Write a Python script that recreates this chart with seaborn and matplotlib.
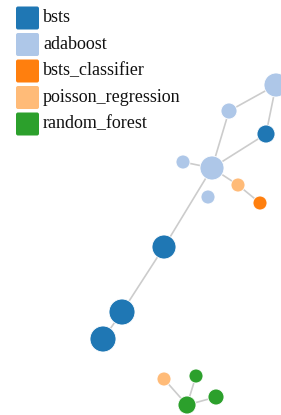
import matplotlib
matplotlib.use("Agg")
import matplotlib.pyplot as plt
from matplotlib.patches import FancyBboxPatch
import seaborn as sns
import pandas as pd

# node data (pixel layout)
node_x = [276, 229, 266, 183, 212, 238, 260, 208, 164, 122, 103, 164, 196, 187, 216]
node_y = [85, 111, 134, 162, 168, 185, 203, 197, 247, 312, 339, 379, 376, 405, 397]
node_r = [12, 8, 9, 7, 12, 7, 7, 7, 12, 13, 13, 7, 7, 9, 8]
node_group = ["adaboost", "adaboost", "bsts", "adaboost", "adaboost",
              "poisson_regression", "bsts_classifier", "adaboost",
              "bsts", "bsts", "bsts", "poisson_regression",
              "random_forest", "random_forest", "random_forest"]
edges = [(0, 1), (0, 2), (1, 4), (2, 4), (3, 4), (4, 5), (5, 6), (4, 8),
         (8, 9), (9, 10), (11, 13), (12, 13), (14, 13)]

groups = ["bsts", "adaboost", "bsts_classifier", "poisson_regression", "random_forest"]
colors = ["#1f77b4", "#aec7e8", "#ff7f0e", "#ffbb78", "#2ca02c"]

df = pd.DataFrame({"x": node_x, "y": node_y, "r": node_r, "group": node_group})

sns.set_style("white")
fig = plt.figure(figsize=(2.81, 4.15), dpi=100)
ax = fig.add_axes([0, 0, 1, 1])
ax.set_xlim(0, 281)
ax.set_ylim(415, 0)
ax.axis("off")

# links
for a, b in edges:
    ax.plot([node_x[a], node_x[b]], [node_y[a], node_y[b]],
            color="#cccccc", lw=1.2, zorder=1)

# nodes, radius in px -> marker area in pt^2
sizes = {r: (1.44 * r) ** 2 for r in set(node_r)}
sns.scatterplot(data=df, x="x", y="y", hue="group", hue_order=groups,
                palette=dict(zip(groups, colors)), size="r", sizes=sizes,
                edgecolor="white", linewidth=0.6, legend=False, ax=ax, zorder=2)

# legend
for i, (g, c) in enumerate(zip(groups, colors)):
    yc = 18 + i * 26.5
    ax.add_patch(FancyBboxPatch((16, yc - 11.5), 23, 23,
                                boxstyle="round,pad=0,rounding_size=2",
                                facecolor=c, edgecolor="none", zorder=3))
    ax.text(43, yc, g, va="center", ha="left", fontsize=13,
            family="Liberation Serif", color="#111111")

fig.savefig("out.png", dpi=100)
